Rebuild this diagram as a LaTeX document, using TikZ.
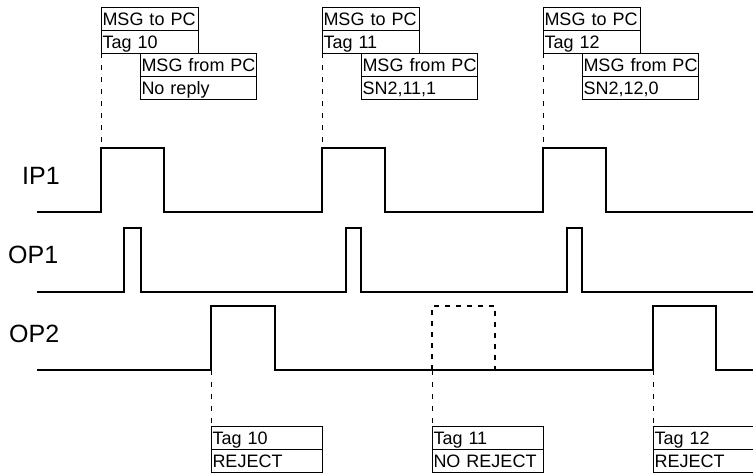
\documentclass[tikz,border=0pt]{standalone}
\usepackage{fontspec}
\setmainfont{Liberation Sans}
\usetikzlibrary{positioning}

\tikzset{
  cell/.style={draw, line width=0.9pt, inner xsep=1.5pt, inner ysep=0pt, outer sep=0pt,
    text width=#1, minimum height=23pt, text height=14pt, text depth=1pt, align=left,
    font=\fontsize{18}{18}\selectfont},
  sig/.style={line width=1.8pt, line join=miter},
  guide/.style={line width=0.9pt, dash pattern=on 5pt off 7pt},
  lbl/.style={anchor=base west, inner sep=0pt, font=\fontsize{25}{25}\selectfont}
}

\begin{document}
\begin{tikzpicture}[x=1pt,y=-1pt]
\clip (0,0) rectangle (753,474);

% signal names
\node[lbl] (nIP1) at (22,184) {IP1};
\node[lbl] (nOP1) at (8,263) {OP1};
\node[lbl] (nOP2) at (9,342) {OP2};

% edges where the guide lines end
\path (101,148) coordinate(r10);
\path (322,148) coordinate(r11);
\path (543,148) coordinate(r12);
\path (211,370) coordinate(k10);
\path (432,370) coordinate(k11);
\path (653,370) coordinate(k12);

% signals
\draw[sig] (37,212) -| (r10) -| (164,212) -| (r11) -| (385,212) -| (r12) -| (606,212) -- (753,212);
\draw[sig] (37,292) -| (124,228) -| (141,292) -| (346,228) -| (361,292) -| (567,228) -| (582,292) -- (753,292);
\draw[sig] (37,370) -| (211,306) -| (275,370) -| (653,306) -| (716,370) -- (753,370);
\draw[sig, dash pattern=on 5pt off 6pt] (k11) -- (432,306) -- (495,306) -- (495,370);

% messages to and from the PC
\node[cell=94pt, anchor=north west] (to10) at (101,7) {MSG~to~PC};
\node[cell=94pt, anchor=north] (tag10) at (to10.south) {Tag~10};
\node[cell=113pt, anchor=north west] (from10) at ([xshift=39pt]tag10.south west) {MSG~from~PC};
\node[cell=113pt, anchor=north] (rep10) at (from10.south) {No~reply};

\node[cell=94pt, anchor=north west] (to11) at (322,7) {MSG~to~PC};
\node[cell=94pt, anchor=north] (tag11) at (to11.south) {Tag~11};
\node[cell=113pt, anchor=north west] (from11) at ([xshift=39pt]tag11.south west) {MSG~from~PC};
\node[cell=113pt, anchor=north] (rep11) at (from11.south) {SN2,11,1};

\node[cell=94pt, anchor=north west] (to12) at (543,7) {MSG~to~PC};
\node[cell=94pt, anchor=north] (tag12) at (to12.south) {Tag~12};
\node[cell=113pt, anchor=north west] (from12) at ([xshift=39pt]tag12.south west) {MSG~from~PC};
\node[cell=113pt, anchor=north] (rep12) at (from12.south) {SN2,12,0};

\draw[guide] (tag10.south west) -- (r10);
\draw[guide] (tag11.south west) -- (r11);
\draw[guide] (tag12.south west) -- (r12);

% reject results
\node[cell=108pt, anchor=north west] (res10) at (211,426) {Tag~10};
\node[cell=108pt, anchor=north] (rej10) at (res10.south) {REJECT};
\node[cell=108pt, anchor=north west] (res11) at (432,426) {Tag~11};
\node[cell=108pt, anchor=north] (rej11) at (res11.south) {NO~REJECT};
\node[cell=108pt, anchor=north west] (res12) at (653,426) {Tag~12};
\node[cell=108pt, anchor=north] (rej12) at (res12.south) {REJECT};

\draw[guide] (k10) -- (res10.north west);
\draw[guide] (k11) -- (res11.north west);
\draw[guide] (k12) -- (res12.north west);
\end{tikzpicture}
\end{document}
